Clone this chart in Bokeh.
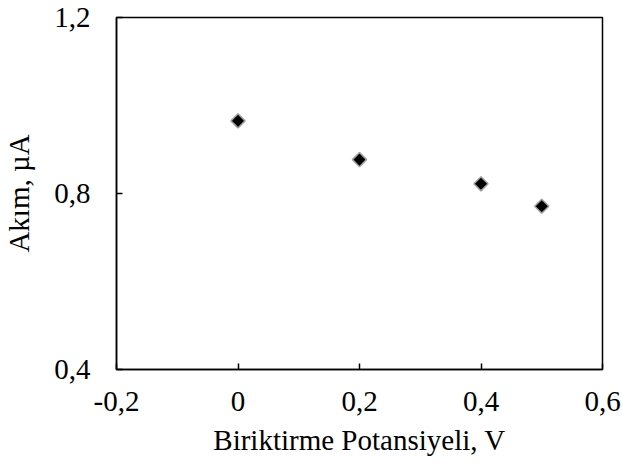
from bokeh.plotting import figure
from bokeh.models import Range1d, FixedTicker, ColumnDataSource
from bokeh.embed import file_html
from bokeh.resources import INLINE

# Data
x_vals = [0.0, 0.2, 0.4, 0.5]
y_vals = [0.965, 0.877, 0.822, 0.771]

x_ticks = [-0.2, 0.0, 0.2, 0.4, 0.6]
x_tick_labels = ["-0,2", "0", "0,2", "0,4", "0,6"]
y_ticks = [0.4, 0.8, 1.2]
y_tick_labels = ["0,4", "0,8", "1,2"]

x_title = "Biriktirme Potansiyeli, V"
y_title = "Akım, µA"

FONT = "Liberation Serif"

p = figure(
    width=622, height=466,
    x_range=Range1d(-0.2, 0.6), y_range=Range1d(0.4, 1.2),
    output_backend="svg", toolbar_location=None,
    min_border_left=116, min_border_right=20,
    min_border_top=17, min_border_bottom=97,
)
p.background_fill_color = "white"
p.border_fill_color = "white"
p.outline_line_color = "black"
p.outline_line_width = 1.5
p.xgrid.visible = False
p.ygrid.visible = False

src = ColumnDataSource(dict(x=x_vals, y=y_vals))
p.scatter("x", "y", source=src, marker="square", size=10, angle=0.785398,
          fill_color="black", line_color="#a0a0a0", line_width=1.5)

for ax, ticks, labels in ((p.xaxis[0], x_ticks, x_tick_labels), (p.yaxis[0], y_ticks, y_tick_labels)):
    ax.ticker = FixedTicker(ticks=ticks)
    ax.major_label_overrides = {t: l for t, l in zip(ticks, labels)}
    ax.minor_tick_line_color = None
    ax.major_tick_in = 6
    ax.major_tick_out = 0
    ax.major_tick_line_color = "black"
    ax.major_tick_line_width = 1.5
    ax.axis_line_color = "black"
    ax.axis_line_width = 1.5
    ax.major_label_text_font = FONT
    ax.major_label_text_font_size = "29px"
    ax.major_label_text_color = "black"
    ax.axis_label_text_font = FONT
    ax.axis_label_text_font_size = "29px"
    ax.axis_label_text_font_style = "normal"
    ax.axis_label_text_color = "black"

p.xaxis.axis_label = x_title
p.yaxis.axis_label = y_title
p.xaxis.major_label_standoff = 22
p.yaxis.major_label_standoff = 26
p.xaxis.axis_label_standoff = 10
p.yaxis.axis_label_standoff = 16

open("out.html", "w").write(file_html(p, INLINE))
